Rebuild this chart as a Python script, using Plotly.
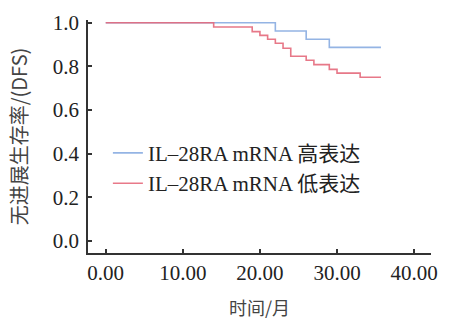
import plotly.graph_objects as go

# High expression group (blue)
high_t = [0.0, 22.0, 26.0, 29.0, 35.7]
high_s = [1.0, 0.962, 0.924, 0.887, 0.887]
# Low expression group (red)
low_t = [0.0, 14.0, 19.0, 20.0, 21.0, 22.0, 23.0, 24.0, 26.0, 27.0, 29.0, 30.0, 33.0, 35.7]
low_s = [1.0, 0.980, 0.959, 0.942, 0.924, 0.906, 0.883, 0.846, 0.828, 0.808, 0.786, 0.769, 0.750, 0.750]

names = ["IL\u201328RA mRNA 高表达", "IL\u201328RA mRNA 低表达"]
x_ticks = [0, 10, 20, 30, 40]
y_ticks = [0.0, 0.2, 0.4, 0.6, 0.8, 1.0]

serif = "Liberation Serif, Times New Roman, Noto Sans CJK SC, serif"
cjk = "Noto Sans CJK SC, Liberation Serif, sans-serif"

fig = go.Figure()
fig.add_trace(go.Scatter(x=high_t, y=high_s, mode="lines", line_shape="hv",
                         line=dict(color="#94b4e4", width=1.6), name=names[0]))
fig.add_trace(go.Scatter(x=low_t, y=low_s, mode="lines", line_shape="hv",
                         line=dict(color="#e56a7c", width=1.6), name=names[1],
                         opacity=0.9))

fig.update_layout(
    width=453, height=322,
    margin=dict(l=88, r=22, t=20, b=69),
    paper_bgcolor="white", plot_bgcolor="white",
    showlegend=True,
    legend=dict(x=0.058, y=0.516, xanchor="left", yanchor="top",
                font=dict(family=serif, size=21, color="#222"),
                bgcolor="rgba(0,0,0,0)", itemwidth=30, tracegroupgap=0),
    xaxis=dict(range=[-2.3, 42.19], tickvals=x_ticks, tickformat=".2f",
               ticks="inside", ticklen=4, tickwidth=1.5, tickcolor="#333",
               showline=True, linecolor="#333", linewidth=1.5,
               showgrid=False, zeroline=False, automargin=False,
               tickfont=dict(family=serif, size=21, color="#222"),
               ticklabelstandoff=0,
               title=dict(text="时间/月", font=dict(family=cjk, size=18, color="#444"),
                          standoff=18)),
    yaxis=dict(range=[-0.055, 1.0124], tickvals=y_ticks, tickformat=".1f",
               ticks="inside", ticklen=4, tickwidth=1.5, tickcolor="#333",
               showline=True, linecolor="#333", linewidth=1.5,
               showgrid=False, zeroline=False, automargin=False,
               tickfont=dict(family=serif, size=21, color="#222"),
               ticklabelstandoff=3,
               title=dict(text="无进展生存率/(DFS)", font=dict(family=cjk, size=20, color="#444"),
                          standoff=20)),
)

fig.write_html("out.html", config={"displayModeBar": False},
               post_script="document.body.style.margin='0';document.body.style.overflow='hidden';")
